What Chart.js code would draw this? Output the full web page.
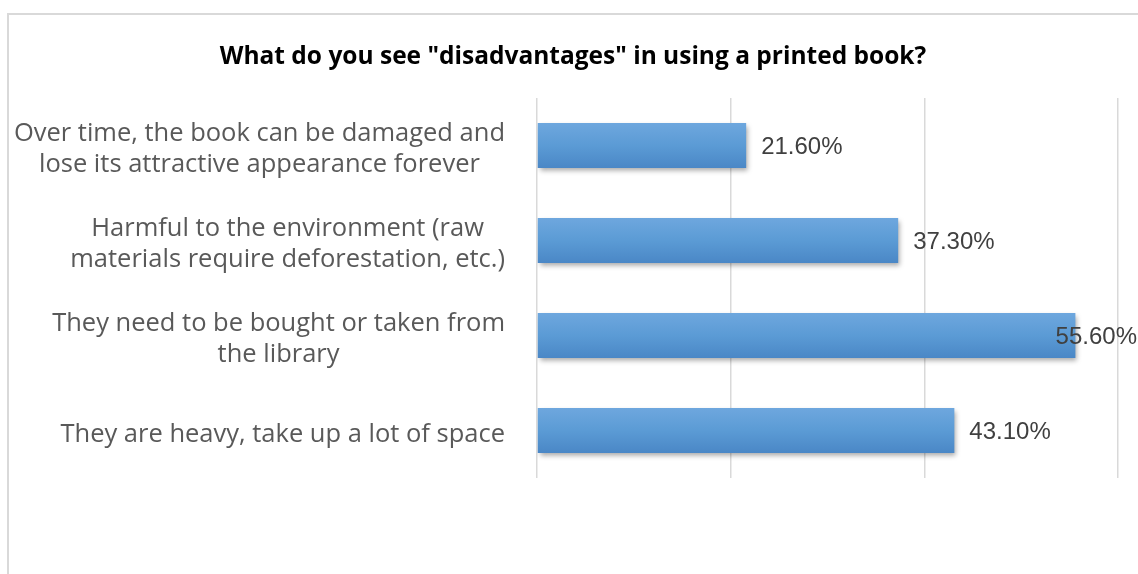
<!DOCTYPE html>
<html>
<head>
<meta charset="utf-8">
<script src="https://cdn.jsdelivr.net/npm/chart.js@4/dist/chart.umd.min.js"></script>
<style>
  html, body { margin: 0; padding: 0; background: #fff; }
  #wrap { width: 1138px; height: 574px; }
</style>
</head>
<body>
<div id="wrap"><canvas id="c" width="1138" height="574"></canvas></div>
<script>
// Survey answers: disadvantages of printed books
const titleText = 'What do you see "disadvantages" in using a printed book?';
const categories = [
  ['Over time, the book can be damaged and', 'lose its attractive appearance forever'],
  ['Harmful to the environment (raw', 'materials require deforestation, etc.)'],
  ['They need to be bought or taken from', 'the library'],
  ['They are heavy, take up a lot of space']
];
const shares = [21.6, 37.3, 55.6, 43.1];
const valueLabels = ['21.60%', '37.30%', '55.60%', '43.10%'];
const axisTicks = [0, 20, 40, 60];

const BAR_FRACTION = 0.475;
const LABEL_FONT = '25.5px "Open Sans", sans-serif';
const LABEL_LINE = 31;
const LABEL_GAP = 32;

// Vertical blue gradient for each bar
function barFill(context) {
  const chart = context.chart;
  const y = chart.scales.y;
  const area = chart.chartArea;
  if (!y || !area) return '#5B9BD5';
  const band = (area.bottom - area.top) / categories.length;
  const half = band * BAR_FRACTION / 2;
  const cy = y.getPixelForValue(context.dataIndex);
  const g = chart.ctx.createLinearGradient(0, cy - half, 0, cy + half);
  g.addColorStop(0, '#6EA7DE');
  g.addColorStop(0.5, '#5B9BD5');
  g.addColorStop(1, '#4A87C6');
  return g;
}

// Frame around the whole chart
const framePlugin = {
  id: 'frame',
  beforeDraw(chart) {
    const ctx = chart.ctx;
    ctx.save();
    ctx.fillStyle = '#ffffff';
    ctx.fillRect(0, 0, chart.width, chart.height);
    ctx.strokeStyle = '#D9D9D9';
    ctx.lineWidth = 2;
    ctx.strokeRect(8, 14, chart.width + 40, chart.height + 40);
    ctx.restore();
  }
};

// Category labels: a block right-aligned to the axis, each line centred within the block
const categoryLabelPlugin = {
  id: 'categoryLabels',
  afterDraw(chart) {
    const ctx = chart.ctx;
    const yScale = chart.scales.y;
    const right = chart.chartArea.left - LABEL_GAP;
    ctx.save();
    ctx.font = LABEL_FONT;
    ctx.fillStyle = '#595959';
    ctx.textAlign = 'center';
    ctx.textBaseline = 'middle';
    categories.forEach((lines, i) => {
      const blockW = Math.max(...lines.map(l => ctx.measureText(l).width));
      const cx = right - blockW / 2;
      const cy = yScale.getPixelForValue(i) + 4;
      lines.forEach((line, k) => {
        ctx.fillText(line, cx, cy + (k - (lines.length - 1) / 2) * LABEL_LINE);
      });
    });
    ctx.restore();
  }
};

// Soft drop shadow under bars
const shadowPlugin = {
  id: 'barShadow',
  beforeDatasetDraw(chart) {
    const ctx = chart.ctx;
    ctx.save();
    ctx.shadowColor = 'rgba(0,0,0,0.35)';
    ctx.shadowBlur = 5;
    ctx.shadowOffsetX = 2;
    ctx.shadowOffsetY = 3;
  },
  afterDatasetDraw(chart) {
    chart.ctx.restore();
  }
};

// Percentage labels placed after each bar, kept inside the canvas
const valueLabelPlugin = {
  id: 'valueLabels',
  afterDatasetsDraw(chart) {
    const ctx = chart.ctx;
    const meta = chart.getDatasetMeta(0);
    ctx.save();
    ctx.font = '24px "Liberation Sans", Arial, sans-serif';
    ctx.fillStyle = '#404040';
    ctx.textBaseline = 'middle';
    ctx.textAlign = 'left';
    meta.data.forEach((bar, i) => {
      const text = valueLabels[i];
      const w = ctx.measureText(text).width;
      let x = bar.x + 15;
      if (x + w > chart.width - 1) x = chart.width - 1 - w;
      ctx.fillText(text, x, bar.y + 2);
    });
    ctx.restore();
  }
};

new Chart(document.getElementById('c'), {
  type: 'bar',
  data: {
    labels: categories,
    datasets: [{
      data: shares,
      backgroundColor: barFill,
      borderWidth: 0,
      categoryPercentage: 1,
      barPercentage: BAR_FRACTION
    }]
  },
  options: {
    indexAxis: 'y',
    responsive: false,
    animation: false,
    events: [],
    layout: { padding: { left: 28, right: 20, top: 0, bottom: 96 } },
    plugins: {
      legend: { display: false },
      tooltip: { enabled: false },
      title: {
        display: true,
        text: titleText,
        color: '#000000',
        font: { family: '"Open Sans", sans-serif', size: 24.5, weight: 'bold', lineHeight: 1.2 },
        padding: { top: 42, bottom: 26.6 }
      }
    },
    scales: {
      x: {
        min: axisTicks[0],
        max: axisTicks[axisTicks.length - 1],
        afterBuildTicks(scale) { scale.ticks = axisTicks.map(v => ({ value: v })); },
        ticks: { display: false },
        grid: { color: '#D9D9D9', lineWidth: 1.5, drawTicks: false },
        border: { display: false }
      },
      y: {
        afterFit(scale) { scale.width = 509; },
        ticks: { display: false },
        grid: { display: false, drawTicks: false },
        border: { display: false }
      }
    }
  },
  plugins: [framePlugin, shadowPlugin, valueLabelPlugin, categoryLabelPlugin]
});
</script>
</body>
</html>
